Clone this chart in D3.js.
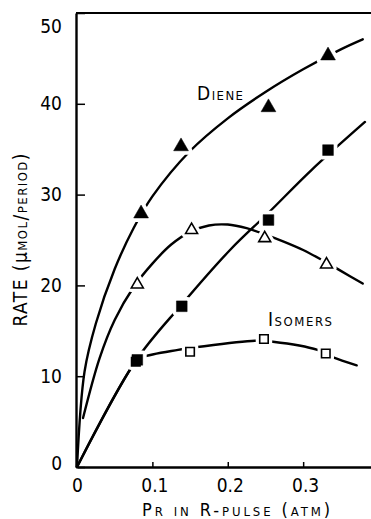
<!DOCTYPE html>
<html>
<head>
<meta charset="utf-8">
<script src="https://cdn.jsdelivr.net/npm/d3@7"></script>
<style>
  body { margin: 0; background: #fff; }
  svg { display: block; }
  text { font-family: "DejaVu Sans Condensed", "Liberation Sans Narrow", "DejaVu Sans", sans-serif; fill: #000; }
</style>
</head>
<body>
<div id="chart"></div>
<script>
var width = 371, height = 519;

// measured points (pressure atm, rate umol/period)
var dieneX = [0.085, 0.138, 0.254, 0.333];
var dieneY = [27.9, 35.3, 39.6, 45.3];
var filledSqX = [0.080, 0.139, 0.254, 0.333];
var filledSqY = [11.8, 17.7, 27.2, 34.9];
var openTriX = [0.080, 0.152, 0.249, 0.331];
var openTriY = [20.1, 26.1, 25.2, 22.3];
var isomerX = [0.078, 0.150, 0.248, 0.330];
var isomerY = [11.6, 12.7, 14.1, 12.5];

// hand drawn curves
var dieneCurve = [[0,0],[0.01,10.5],[0.025,15.8],[0.05,21.8],[0.075,26.3],[0.1,29.8],[0.15,34.8],[0.2,38.4],[0.25,41.3],[0.3,43.8],[0.35,46.0],[0.379,47.1]];
var filledSqCurve = [[0,0],[0.078,11.7],[0.139,17.9],[0.203,23.9],[0.254,28.0],[0.311,32.7],[0.382,38.0]];
var openTriCurve = [[0.008,5.4],[0.03,12.0],[0.05,16.2],[0.075,19.8],[0.1,22.4],[0.125,24.5],[0.15,25.9],[0.175,26.6],[0.2,26.7],[0.225,26.3],[0.25,25.6],[0.275,24.8],[0.3,23.9],[0.325,22.8],[0.35,21.6],[0.379,20.2]];
var isomerCurve = [[0,0],[0.078,11.6],[0.087,12.1],[0.134,12.9],[0.159,13.2],[0.236,13.9],[0.260,13.8],[0.319,12.9],[0.339,12.1],[0.371,11.2]];

var xTicks = [0, 0.1, 0.2, 0.3];
var yTicks = [0, 10, 20, 30, 40, 50];

var svg = d3.select("#chart").append("svg")
  .attr("width", width)
  .attr("height", height);

var x = d3.scaleLinear().domain([0, 0.39]).range([77, 371]);
var y = d3.scaleLinear().domain([0, 50]).range([467, 13]);

// frame top
svg.append("line")
  .attr("x1", 76).attr("x2", width)
  .attr("y1", y(50)).attr("y2", y(50))
  .attr("stroke", "#000").attr("stroke-width", 2.2);

var yAxis = svg.append("g")
  .attr("transform", "translate(76,0)")
  .call(d3.axisLeft(y).tickValues(yTicks).tickSizeInner(-9).tickSizeOuter(0).tickPadding(14));
yAxis.select(".domain").attr("stroke-width", 2.4);
yAxis.selectAll(".tick line").attr("stroke-width", 1.5);
yAxis.selectAll("text").style("font-size", "19px").attr("font-family", null);
yAxis.selectAll(".tick").filter(function(d){ return d === 50; }).select("text").attr("dy", "1.05em");
yAxis.selectAll(".tick").filter(function(d){ return d === 0; }).select("text").attr("dy", "0.15em");

var xAxis = svg.append("g")
  .attr("transform", "translate(0,467)")
  .call(d3.axisBottom(x).tickValues(xTicks).tickSizeInner(-5).tickSizeOuter(0).tickPadding(12)
    .tickFormat(function(d){ return d === 0 ? "0" : d3.format(".1f")(d); }));
xAxis.select(".domain").attr("stroke-width", 2.4);
xAxis.selectAll(".tick line").attr("stroke-width", 1.5);
xAxis.selectAll("text").style("font-size", "19px").attr("font-family", null).attr("dx", function(d){ return d === 0 ? 0 : 2; });

// curves
var line = d3.line()
  .x(function(d){ return x(d[0]); })
  .y(function(d){ return y(d[1]); })
  .curve(d3.curveCatmullRom.alpha(0.5));

[dieneCurve, filledSqCurve, openTriCurve, isomerCurve].forEach(function(c){
  svg.append("path")
    .attr("d", line(c))
    .attr("fill", "none")
    .attr("stroke", "#000")
    .attr("stroke-width", 2.4)
    .attr("stroke-linecap", "round");
});

// markers
var series = [
  {xs: dieneX, ys: dieneY, type: d3.symbolTriangle, size: 95, filled: true},
  {xs: openTriX, ys: openTriY, type: d3.symbolTriangle, size: 62, filled: false},
  {xs: isomerX, ys: isomerY, type: d3.symbolSquare, size: 72, filled: false},
  {xs: filledSqX, ys: filledSqY, type: d3.symbolSquare, size: 115, filled: true}
];

// white halos make the gaps around the markers
series.forEach(function(s){
  var sym = d3.symbol().type(s.type).size(s.size);
  s.xs.forEach(function(v, i){
    svg.append("path")
      .attr("d", sym())
      .attr("transform", "translate(" + x(v) + "," + y(s.ys[i]) + ")")
      .attr("fill", "#fff")
      .attr("stroke", "#fff")
      .attr("stroke-width", 8)
      .attr("stroke-linejoin", "round");
  });
});

series.forEach(function(s){
  var sym = d3.symbol().type(s.type).size(s.size);
  s.xs.forEach(function(v, i){
    svg.append("path")
      .attr("d", sym())
      .attr("transform", "translate(" + x(v) + "," + y(s.ys[i]) + ")")
      .attr("fill", s.filled ? "#000" : "#fff")
      .attr("stroke", "#000")
      .attr("stroke-width", s.filled ? 0.5 : 1.6);
  });
});

// labels
svg.append("text")
  .attr("x", 197).attr("y", 100)
  .attr("textLength", 46).attr("lengthAdjust", "spacing")
  .style("font-size", "19px")
  .style("font-variant", "small-caps")
  .text("Diene");

svg.append("text")
  .attr("x", 268).attr("y", 326)
  .attr("textLength", 64).attr("lengthAdjust", "spacing")
  .style("font-size", "19px")
  .style("font-variant", "small-caps")
  .text("Isomers");

var yt = svg.append("text")
  .attr("transform", "translate(27,240) rotate(-90)")
  .attr("text-anchor", "middle")
  .attr("textLength", 173).attr("lengthAdjust", "spacing")
  .style("font-size", "19px")
  .style("font-variant", "small-caps");
yt.append("tspan").text("RATE (");
yt.append("tspan").style("font-variant", "normal").text("\u03bc");
yt.append("tspan").text("mol/period)");

svg.append("text")
  .attr("x", 236).attr("y", 516)
  .attr("text-anchor", "middle")
  .attr("textLength", 188).attr("lengthAdjust", "spacing")
  .style("font-size", "18px")
  .style("font-variant", "small-caps")
  .text("Pr in R-pulse (atm)");
</script>
</body>
</html>
